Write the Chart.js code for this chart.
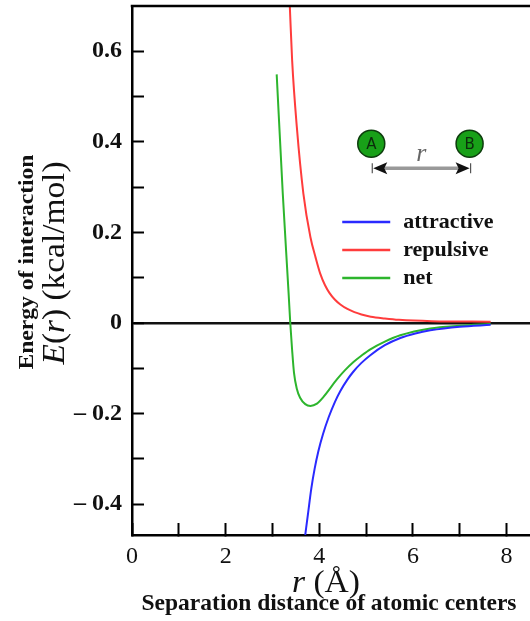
<!DOCTYPE html>
<html>
<head>
<meta charset="utf-8">
<script src="https://cdn.jsdelivr.net/npm/chart.js@4.4.1/dist/chart.umd.min.js"></script>
<style>html,body{margin:0;padding:0;background:#fff}</style>
</head>
<body>
<canvas id="c" width="530" height="621"></canvas>
<script>
// values (r in Å, E in kcal/mol)
const R_ATTR = [3.70, 3.76, 3.83, 3.90, 3.98, 4.08, 4.20, 4.33, 4.45, 4.60, 4.73, 4.90, 5.09, 5.40, 5.73, 6.05, 6.37, 7.00, 7.66];
const E_ATTR = [-0.468, -0.42, -0.365, -0.322, -0.283, -0.245, -0.208, -0.175, -0.150, -0.125, -0.107, -0.088, -0.071, -0.049, -0.033, -0.023, -0.016, -0.008, -0.004];
const R_REP = [3.37, 3.42, 3.52, 3.66, 3.81, 3.92, 4.02, 4.12, 4.22, 4.33, 4.45, 4.60, 4.75, 4.90, 5.10, 5.40, 5.70, 6.40, 7.66];
const E_REP = [0.70, 0.58, 0.433, 0.286, 0.19, 0.145, 0.109, 0.084, 0.066, 0.052, 0.041, 0.031, 0.024, 0.019, 0.014, 0.010, 0.007, 0.004, 0.003];
const R_NET = [3.09, 3.22, 3.345, 3.38, 3.42, 3.46, 3.52, 3.59, 3.70, 3.81, 3.95, 4.09, 4.38, 4.55, 4.73, 4.90, 5.09, 5.40, 5.73, 6.37, 7.00, 7.66];
const E_NET = [0.549, 0.286, 0.065, 0.0, -0.06, -0.11, -0.145, -0.165, -0.179, -0.183, -0.178, -0.163, -0.124, -0.104, -0.086, -0.072, -0.058, -0.041, -0.027, -0.012, -0.006, -0.002];

const X_TICKS = [0, 1, 2, 3, 4, 5, 6, 7, 8];
const X_LABELS = [0, 2, 4, 6, 8];
const Y_TICKS = [-0.4, -0.3, -0.2, -0.1, 0, 0.1, 0.2, 0.3, 0.4, 0.5, 0.6];
const Y_LABELS = [-0.4, -0.2, 0, 0.2, 0.4, 0.6];
const X_RANGE = [0, 8.5];
const Y_RANGE = [-0.468, 0.7];

// A—B sketch and legend anchor, in data units
const ATOM_A_R = 5.11, ATOM_B_R = 7.21, ATOM_E = 0.396, ARROW_E = 0.342;
const LEGEND_R = 4.49, LEGEND_E = 0.223;

const SERIF = '"Liberation Serif", "Times New Roman", serif';
const near = (v, list) => list.some((t) => Math.abs(t - v) < 1e-6);
const pts = (rs, es) => rs.map((r, i) => ({ x: r, y: es[i] }));

function fitText(ctx, parts, x, y, len, rot) {
  let w = 0;
  parts.forEach((p) => { ctx.font = p.font; p.w = ctx.measureText(p.t).width; w += p.w; });
  const k = len ? len / w : 1;
  ctx.save();
  ctx.translate(x, y); ctx.rotate(rot || 0); ctx.scale(k, 1);
  ctx.textAlign = "left"; ctx.textBaseline = "alphabetic"; ctx.fillStyle = "#111";
  let cx = -w / 2;
  parts.forEach((p) => { ctx.font = p.font; ctx.fillText(p.t, cx, 0); cx += p.w; });
  ctx.restore();
}

const decor = {
  id: "decor",
  afterDraw(chart) {
    const { ctx, chartArea: a, scales: { x: xs, y: ys } } = chart;
    // top frame line
    ctx.save();
    ctx.strokeStyle = "#000"; ctx.lineWidth = 2.5;
    ctx.beginPath(); ctx.moveTo(a.left - 1.25, a.top); ctx.lineTo(a.right, a.top); ctx.stroke();

    // legend
    const lx = xs.getPixelForValue(LEGEND_R), ly = ys.getPixelForValue(LEGEND_E);
    chart.data.datasets.forEach((ds, i) => {
      const y = ly + i * 28;
      ctx.strokeStyle = ds.borderColor; ctx.lineWidth = 2.5;
      ctx.beginPath(); ctx.moveTo(lx, y); ctx.lineTo(lx + 48, y); ctx.stroke();
      ctx.font = `bold 22px ${SERIF}`;
      const w = ctx.measureText(ds.label).width;
      fitText(ctx, [{ t: ds.label, font: `bold 22px ${SERIF}` }], lx + 61 + w / 2, y + 6, 0);
    });

    // atoms A and B with separation arrow
    const ax = xs.getPixelForValue(ATOM_A_R), bx = xs.getPixelForValue(ATOM_B_R);
    const cy = ys.getPixelForValue(ATOM_E), ay = ys.getPixelForValue(ARROW_E);
    [[ax, "A"], [bx, "B"]].forEach(([px, t]) => {
      ctx.beginPath(); ctx.arc(px, cy, 13.5, 0, Math.PI * 2);
      ctx.fillStyle = "#18a018"; ctx.fill();
      ctx.strokeStyle = "#0d3d0d"; ctx.lineWidth = 1.5; ctx.stroke();
      ctx.fillStyle = "#0c2c0c"; ctx.font = '15px "DejaVu Sans", sans-serif';
      ctx.textAlign = "center"; ctx.textBaseline = "middle";
      ctx.fillText(t, px, cy + 1);
    });
    const x1 = ax + 1, x2 = bx + 1;
    ctx.strokeStyle = "#999"; ctx.lineWidth = 3.5;
    ctx.beginPath(); ctx.moveTo(x1 + 8, ay); ctx.lineTo(x2 - 8, ay); ctx.stroke();
    ctx.strokeStyle = "#555"; ctx.lineWidth = 1.2;
    ctx.beginPath(); ctx.moveTo(x1, ay - 5); ctx.lineTo(x1, ay + 5);
    ctx.moveTo(x2, ay - 5); ctx.lineTo(x2, ay + 5); ctx.stroke();
    ctx.fillStyle = "#111";
    ctx.beginPath(); ctx.moveTo(x1 + 1, ay); ctx.lineTo(x1 + 15, ay - 6); ctx.lineTo(x1 + 12, ay); ctx.lineTo(x1 + 15, ay + 6); ctx.closePath(); ctx.fill();
    ctx.beginPath(); ctx.moveTo(x2 - 1, ay); ctx.lineTo(x2 - 15, ay - 6); ctx.lineTo(x2 - 12, ay); ctx.lineTo(x2 - 15, ay + 6); ctx.closePath(); ctx.fill();
    ctx.fillStyle = "#666"; ctx.font = `italic 26px ${SERIF}`;
    ctx.textAlign = "center"; ctx.textBaseline = "alphabetic";
    ctx.fillText("r", (x1 + x2) / 2, ay - 7);
    ctx.restore();

    // axis titles
    fitText(ctx, [{ t: "Energy of interaction", font: `bold 22px ${SERIF}` }], 33, 262, 215, -Math.PI / 2);
    fitText(ctx, [
      { t: "E", font: `italic 32px ${SERIF}` }, { t: "(", font: `32px ${SERIF}` },
      { t: "r", font: `italic 32px ${SERIF}` }, { t: ") (kcal/mol)", font: `32px ${SERIF}` },
    ], 64, 263, 203, -Math.PI / 2);
    fitText(ctx, [{ t: "r", font: `italic 32px ${SERIF}` }, { t: " (Å)", font: `32px ${SERIF}` }], 326, 592, 68);
    fitText(ctx, [{ t: "Separation distance of atomic centers", font: `bold 23px ${SERIF}` }], 329, 610, 375);
  },
};

new Chart(document.getElementById("c"), {
  type: "line",
  data: {
    datasets: [
      { label: "attractive", data: pts(R_ATTR, E_ATTR), borderColor: "#2a2aff" },
      { label: "repulsive", data: pts(R_REP, E_REP), borderColor: "#ff3c3c" },
      { label: "net", data: pts(R_NET, E_NET), borderColor: "#2db52d" },
    ],
  },
  options: {
    responsive: false, animation: false,
    layout: { padding: { top: 6, left: 0, right: 0, bottom: 0 } },
    elements: { point: { radius: 0 }, line: { borderWidth: 2, cubicInterpolationMode: "monotone", fill: false } },
    plugins: { legend: { display: false }, tooltip: { enabled: false } },
    scales: {
      x: {
        type: "linear", min: X_RANGE[0], max: X_RANGE[1],
        afterBuildTicks: (s) => { s.ticks = X_TICKS.map((v) => ({ value: v })); },
        afterFit: (s) => { s.height = 86; s.paddingLeft = 0; s.paddingRight = 0; },
        ticks: {
          autoSkip: false, maxRotation: 0, padding: 19, color: "#111",
          font: { family: SERIF, size: 24 },
          callback: (v) => (near(v, X_LABELS) ? String(v) : ""),
        },
        grid: { drawOnChartArea: false, tickLength: -12, tickColor: "#000", tickWidth: 2 },
        border: { color: "#000", width: 2.5 },
      },
      y: {
        type: "linear", min: Y_RANGE[0], max: Y_RANGE[1],
        afterBuildTicks: (s) => { s.ticks = Y_TICKS.map((v) => ({ value: v })); },
        afterFit: (s) => { s.width = 132; s.paddingTop = 0; s.paddingBottom = 0; },
        ticks: {
          autoSkip: false, padding: 22, color: "#111",
          font: { family: SERIF, size: 24, weight: "bold" },
          callback: (v) => {
            if (!near(v, Y_LABELS)) return "";
            if (Math.abs(v) < 1e-9) return "0";
            return v < 0 ? "– " + Math.abs(v).toFixed(1) : v.toFixed(1);
          },
        },
        grid: {
          tickLength: -12, tickColor: "#000", tickWidth: 2,
          color: (c) => (c.tick && Math.abs(c.tick.value) < 1e-9 ? "#111" : "rgba(0,0,0,0)"),
          lineWidth: (c) => (c.tick && Math.abs(c.tick.value) < 1e-9 ? 2.5 : 1),
        },
        border: { color: "#000", width: 2.5 },
      },
    },
  },
  plugins: [decor],
});
</script>
</body>
</html>
